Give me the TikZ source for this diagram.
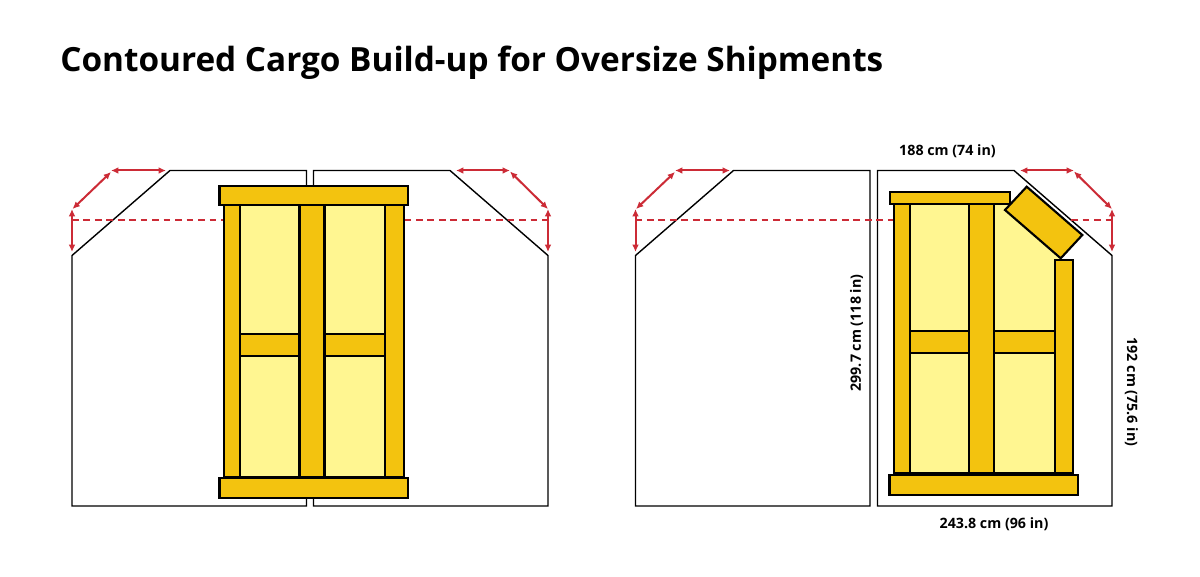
\documentclass[tikz,border=0pt]{standalone}
\usepackage{fontspec}
\setmainfont{Open Sans}
\usetikzlibrary{arrows.meta}
\definecolor{dimred}{HTML}{CC2B36}
\definecolor{gold}{HTML}{F3C30F}
\definecolor{pale}{HTML}{FFF691}
\tikzset{
  outline/.style={draw=black,line width=1.05pt,line join=miter,fill=white},
  timber/.style={draw=black,line width=1.6pt,fill=gold},
  infill/.style={draw=black,line width=1.2pt,fill=pale},
  infillbare/.style={fill=pale},
  dimarrow/.style={draw=dimred,line width=1.5pt,{Latex[length=5.5pt,width=5pt]}-{Latex[length=5.5pt,width=5pt]}},
  limit/.style={draw=dimred,line width=1.5pt,dash pattern=on 5pt off 3.6pt},
  dimlabel/.style={font=\fontsize{10.7pt}{12pt}\selectfont\bfseries,text=black,inner sep=0pt}
}
\begin{document}
\begin{tikzpicture}[x=0.75pt,y=-0.75pt]
\useasboundingbox (0,0) rectangle (1200,577);
\fill[white] (0,0) rectangle (1200,577);
\node[anchor=base west,inner sep=0pt,font=\fontsize{25pt}{30pt}\selectfont\bfseries] (title) at (60,72) {Contoured Cargo Build-up for Oversize Shipments};

% left pair of sections
\draw[outline] (72,506) -- (72,255.5) -- (170,170.5) -- (306.5,170.5) -- (306.5,506) -- cycle;
\draw[outline] (313.5,506) -- (313.5,170.5) -- (450,170.5) -- (548,255.5) -- (548,506) -- cycle;
% right pair of sections
\draw[outline] (635.5,506) -- (635.5,255.5) -- (733.5,170.5) -- (870,170.5) -- (870,506) -- cycle;
\draw[outline] (877.5,506) -- (877.5,170.5) -- (1014,170.5) -- (1112,255.5) -- (1112,506) -- cycle;

% limit lines and dimensions
\draw[limit] (72,220) -- (548,220);
\draw[dimarrow] (111,170.5) -- (166,170.5);
\draw[dimarrow] (111,172) -- (72.5,209);
\draw[dimarrow] (72,209) -- (72,252);
\draw[dimarrow] (456,170.5) -- (510,170.5);
\draw[dimarrow] (510,171.5) -- (548,209);
\draw[dimarrow] (548,209) -- (548,252);

\draw[limit] (635.5,220) -- (1112,220);
\draw[dimarrow] (675,170.5) -- (730,170.5);
\draw[dimarrow] (675,172) -- (636,209);
\draw[dimarrow] (635.5,209) -- (635.5,252);
\draw[dimarrow] (1020,170.5) -- (1074,170.5);
\draw[dimarrow] (1074,171.5) -- (1112,209);
\draw[dimarrow] (1112,209) -- (1112,252);

% left cargo
\draw[infill] (240,205) rectangle (385,477);
\draw[timber] (240,334) rectangle (385,356);
\draw[timber] (224,205) rectangle (240,477);
\draw[timber] (299.5,205) rectangle (324.5,477);
\draw[timber] (385,205) rectangle (404,477);
\draw[timber] (219.5,186) rectangle (408,205);
\draw[timber] (219.5,478) rectangle (408,498);

% right cargo
\fill[infillbare] (910,204) -- (1010,204) -- (1060,250) -- (1060,265) -- (1055,473) -- (910,473) -- cycle;
\draw[timber] (910,331) rectangle (1055,353);
\draw[timber] (894,204) rectangle (910,473);
\draw[timber] (969,204) rectangle (994,473);
\draw[timber] (1055,260) rectangle (1073,473);
\draw[timber] (890,192) rectangle (1010,204);
\draw[timber] (1026.7,186.7) -- (1082.3,235) -- (1060.7,258.3) -- (1005,210) -- cycle;
\draw[timber] (889.5,475) rectangle (1078,495);
\draw[draw=black,line width=1.2pt] (910,473) -- (1055,473);

% labels
\node[dimlabel] (top) at (947.5,151.5) {188 cm (74 in)};
\node[dimlabel] (bottom) at (994,524.5) {243.8 cm (96 in)};
\node[dimlabel,rotate=90] (height) at (856.5,333) {299.7 cm (118 in)};
\node[dimlabel,rotate=-90] (side) at (1131.5,392) {192 cm (75.6 in)};
\end{tikzpicture}
\end{document}
